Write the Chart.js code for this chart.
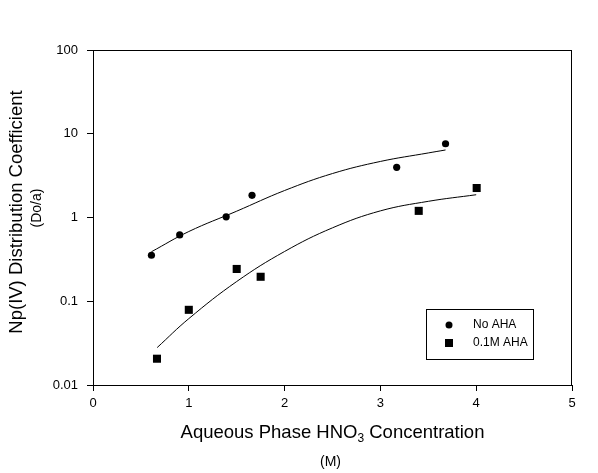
<!DOCTYPE html>
<html>
<head>
<meta charset="utf-8">
<script src="https://cdn.jsdelivr.net/npm/chart.js@4.4.0/dist/chart.umd.min.js"></script>
<style>
body { margin: 0; background: #fff; }
#wrap { width: 598px; height: 473px; }
</style>
</head>
<body>
<div id="wrap"><canvas id="chart" width="598" height="473"></canvas></div>
<script>
// data
const noAhaX = [0.61, 0.905, 1.39, 1.66, 3.17, 3.68];
const noAhaY = [0.354, 0.62, 1.02, 1.84, 3.97, 7.6];
const ahaX = [0.668, 1.0, 1.5, 1.75, 3.4, 4.005];
const ahaY = [0.0206, 0.079, 0.243, 0.196, 1.2, 2.25];

// fitted curves
const noAhaFitX = [0.61, 1.0, 1.5, 2.0, 2.5, 3.0, 3.5, 3.68];
const noAhaFitY = [0.39, 0.68, 1.19, 2.1, 3.35, 4.67, 5.9, 6.4];
const ahaFitX = [0.67, 1.0, 1.5, 2.0, 2.5, 3.0, 3.5, 4.0];
const ahaFitY = [0.028, 0.062, 0.172, 0.393, 0.753, 1.2, 1.56, 1.87];

const xTicks = [0, 1, 2, 3, 4, 5];
const yTicks = [0.01, 0.1, 1, 10, 100];
const yTickLabels = ['0.01', '0.1', '1', '10', '100'];
const legendLabels = ['No AHA', '0.1M AHA'];

const FONT = '"Liberation Sans", Arial, sans-serif';

function pts(xs, ys) {
    return xs.map((x, i) => ({ x: x, y: ys[i] }));
}

// frame, axis titles, legend
const decorPlugin = {
    id: 'decor',
    afterDraw(chart) {
        const ctx = chart.ctx;
        const a = chart.chartArea;
        ctx.save();
        ctx.strokeStyle = '#000';
        ctx.lineWidth = 1;
        ctx.strokeRect(a.left + 0.5, a.top + 0.5, a.right - a.left - 1, a.bottom - a.top);

        ctx.fillStyle = '#000';
        ctx.textBaseline = 'middle';

        // x title with subscript
        const cx = (a.left + a.right) / 2;
        const p1 = 'Aqueous Phase HNO', sub = '3', p2 = ' Concentration';
        ctx.font = '18.5px ' + FONT;
        const w1 = ctx.measureText(p1).width, w3 = ctx.measureText(p2).width;
        ctx.font = '12px ' + FONT;
        const w2 = ctx.measureText(sub).width;
        let sx = cx - (w1 + w2 + w3) / 2;
        const ty = 433;
        ctx.textAlign = 'left';
        ctx.font = '18.5px ' + FONT;
        ctx.fillText(p1, sx, ty);
        ctx.font = '12px ' + FONT;
        ctx.fillText(sub, sx + w1, ty + 6);
        ctx.font = '18.5px ' + FONT;
        ctx.fillText(p2, sx + w1 + w2, ty);
        ctx.textAlign = 'center';
        ctx.font = '14px ' + FONT;
        ctx.fillText('(M)', cx - 2, 462);

        // y title
        ctx.save();
        ctx.translate(17, 212);
        ctx.rotate(-Math.PI / 2);
        ctx.font = '18.5px ' + FONT;
        ctx.fillText('Np(IV) Distribution Coefficient', 0, 0);
        ctx.restore();
        ctx.save();
        ctx.translate(37, 208);
        ctx.rotate(-Math.PI / 2);
        ctx.font = '14px ' + FONT;
        ctx.fillText('(Do/a)', 0, 0);
        ctx.restore();

        // legend
        ctx.strokeRect(426.5, 309.5, 107, 50);
        ctx.textAlign = 'left';
        ctx.font = '12px ' + FONT;
        ctx.beginPath();
        ctx.arc(449, 325, 3.5, 0, Math.PI * 2);
        ctx.fill();
        ctx.fillText(legendLabels[0], 473, 325);
        ctx.fillRect(445, 339, 8, 8);
        ctx.fillText(legendLabels[1], 473, 343);
        ctx.restore();
    }
};

new Chart(document.getElementById('chart'), {
    type: 'scatter',
    data: {
        datasets: [
            {
                label: legendLabels[0],
                data: pts(noAhaX, noAhaY),
                pointStyle: 'circle',
                pointRadius: 3.6,
                backgroundColor: '#000',
                borderColor: '#000',
                borderWidth: 0
            },
            {
                label: legendLabels[1],
                data: pts(ahaX, ahaY),
                pointStyle: 'rect',
                pointRadius: 5.7,
                backgroundColor: '#000',
                borderColor: '#000',
                borderWidth: 0
            },
            {
                label: 'fit1',
                data: pts(noAhaFitX, noAhaFitY),
                showLine: true,
                pointRadius: 0,
                borderColor: '#000',
                borderWidth: 1,
                tension: 0.4
            },
            {
                label: 'fit2',
                data: pts(ahaFitX, ahaFitY),
                showLine: true,
                pointRadius: 0,
                borderColor: '#000',
                borderWidth: 1,
                tension: 0.4
            }
        ]
    },
    options: {
        responsive: false,
        animation: false,
        layout: { padding: { left: 0, top: 50, right: 26, bottom: 0 } },
        plugins: {
            legend: { display: false },
            tooltip: { enabled: false }
        },
        scales: {
            x: {
                type: 'linear',
                min: 0,
                max: 5,
                afterFit: s => { s.height = 88; },
                afterBuildTicks: s => { s.ticks = xTicks.map(v => ({ value: v })); },
                grid: { drawOnChartArea: false, drawTicks: true, tickLength: 6, color: '#000' },
                border: { display: true, color: '#000', width: 1 },
                ticks: { color: '#000', padding: 5, font: { family: FONT, size: 13 } }
            },
            y: {
                type: 'logarithmic',
                min: 0.01,
                max: 100,
                afterFit: s => { s.width = 93; },
                afterBuildTicks: s => { s.ticks = yTicks.map(v => ({ value: v })); },
                grid: { drawOnChartArea: false, drawTicks: true, tickLength: 6, color: '#000' },
                border: { display: true, color: '#000', width: 1 },
                ticks: {
                    color: '#000',
                    padding: 9,
                    font: { family: FONT, size: 13 },
                    callback: (v) => {
                        const i = yTicks.indexOf(v);
                        return i >= 0 ? yTickLabels[i] : '';
                    }
                }
            }
        }
    },
    plugins: [decorPlugin]
});
</script>
</body>
</html>
